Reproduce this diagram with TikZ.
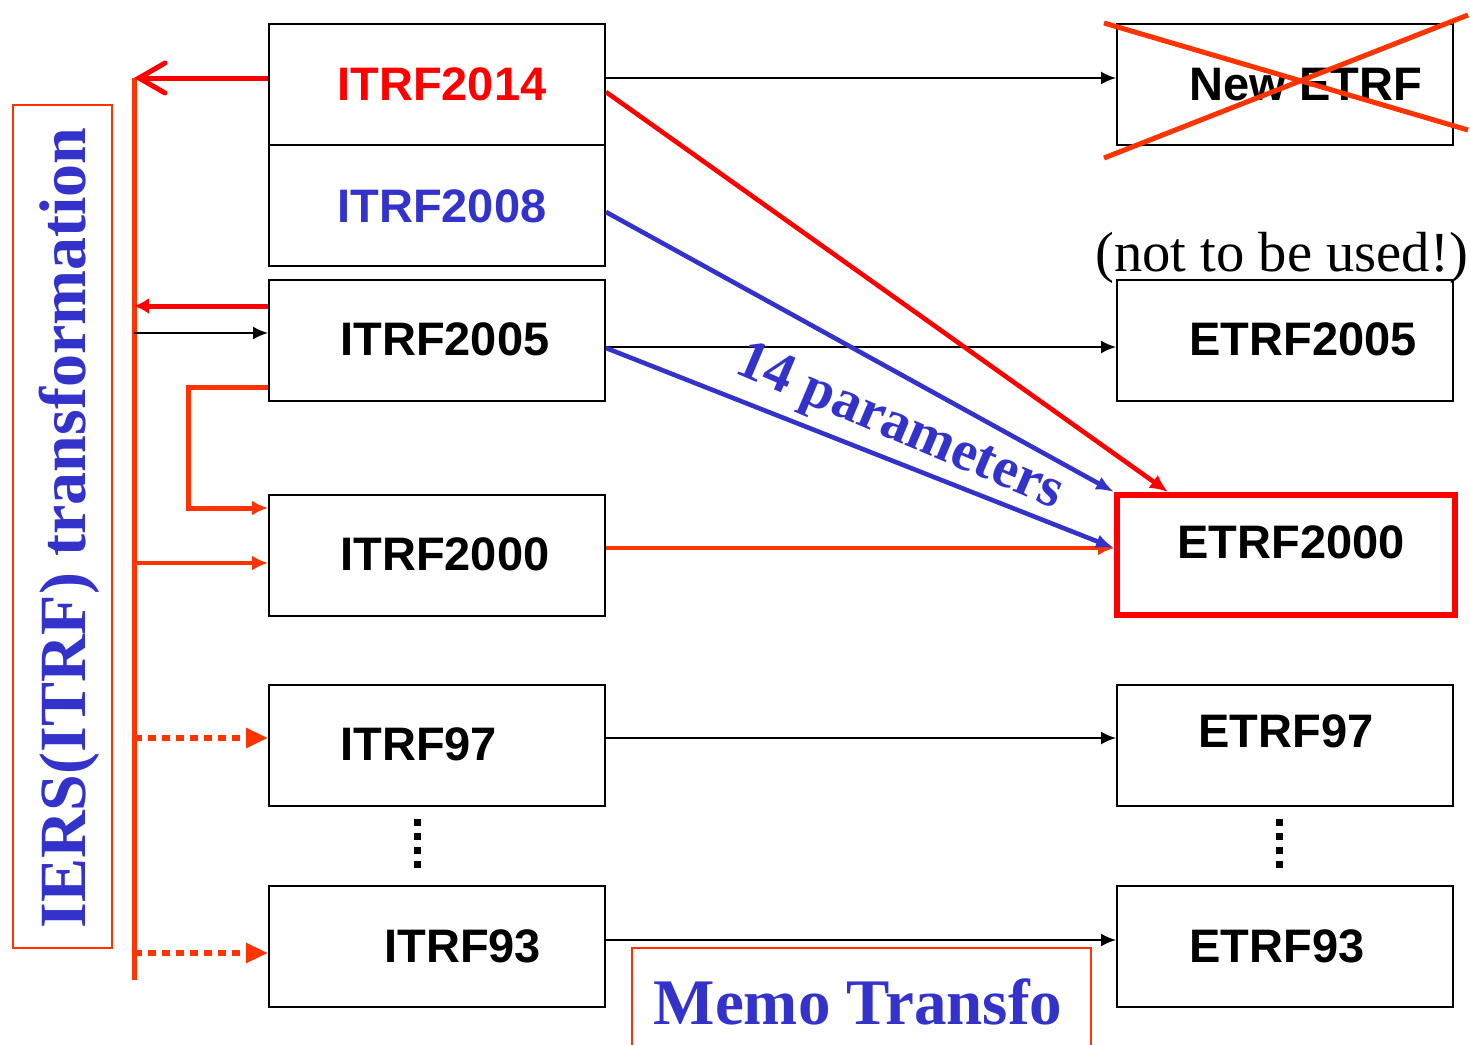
\documentclass[tikz,border=0pt]{standalone}
\usepackage{fontspec}
\setmainfont{Liberation Serif}
\newfontfamily\arialfont{Liberation Sans}
\usetikzlibrary{arrows.meta}
\definecolor{framered}{HTML}{FF0000}
\definecolor{linkorange}{HTML}{FF3300}
\definecolor{itrfblue}{HTML}{3333CC}
\begin{document}
\begin{tikzpicture}[x=0.5pt,y=-0.5pt,
  frame/.style={draw=black,line width=1pt,minimum width=168pt,minimum height=60.5pt,inner sep=0pt},
  lab/.style={font=\arialfont\bfseries\fontsize{23.5}{28}\selectfont,anchor=base west,inner sep=0pt},
  serifblue/.style={text=itrfblue,font=\bfseries\fontsize{33}{36}\selectfont,inner sep=0pt},
  thinarrow/.style={draw=black,line width=1pt,-{Latex[length=7.5pt,width=6.5pt]}},
  redarrow/.style={draw=framered,line width=2.3pt,-{Latex[length=9pt,width=8pt]}},
  bluearrow/.style={draw=itrfblue,line width=2.3pt,-{Latex[length=9pt,width=7pt]}},
  orangearrow/.style={draw=linkorange,line width=2.3pt,-{Latex[length=8pt,width=7.5pt]}},
  dottedarrow/.style={draw=linkorange,line width=3pt,dash pattern=on 4pt off 3pt,
    -{Triangle[length=11pt,width=9.5pt,sep=0pt]}},
  dotsq/.style={fill=black,minimum size=3.5pt,inner sep=0pt}
]
\useasboundingbox (0,0) rectangle (1470,1044);

% ITRF frames
\node[frame] (b14) at (437,84) {};
\node[frame] (b08) at (437,205.5) {};
\node[frame] (b05) at (437,340.5) {};
\node[frame] (b00) at (437,555) {};
\node[frame] (b97) at (437,745) {};
\node[frame] (b93) at (437,946.5) {};
\node[lab,text=framered] (t14) at (337,100) {ITRF2014};
\node[lab,text=itrfblue] (t08) at (337,222) {ITRF2008};
\node[lab] (t05) at (340,355) {ITRF2005};
\node[lab] (t00) at (340,570) {ITRF2000};
\node[lab] (t97) at (340,760) {ITRF97};
\node[lab] (t93) at (384,962) {ITRF93};

% ETRF frames
\node[frame] (eN) at (1285,84) {};
\node[frame] (e05) at (1285,340.5) {};
\node[frame,draw=framered,line width=3pt,minimum width=169pt,minimum height=60pt] (e00) at (1286,555) {};
\node[frame] (e97) at (1285,745) {};
\node[frame] (e93) at (1285,946.5) {};
\node[lab] (tN) at (1189,100) {New ETRF};
\node[lab] (te05) at (1189,355) {ETRF2005};
\node[lab] (te00) at (1177,558) {ETRF2000};
\node[lab] (te97) at (1198,747) {ETRF97};
\node[lab] (te93) at (1189,962) {ETRF93};

% crossed-out frame
\coordinate (xa1) at (1104,23);
\coordinate (xa2) at (1468,130);
\coordinate (xb1) at (1104,158);
\coordinate (xb2) at (1468,15);
\draw[linkorange,line width=2.5pt] (xa1) -- (xa2) (xb1) -- (xb2);
\node[font=\fontsize{28.3}{32}\selectfont,anchor=base west,inner sep=0pt] (warn) at (1095,271) {(not to be used!)};

% left caption
\node[draw=linkorange,line width=1pt,minimum width=49.5pt,minimum height=421.5pt,inner sep=0pt] (capbox) at (62.5,526.5) {};
\node[serifblue,rotate=90,anchor=base] (cap) at (85,528) {IERS(ITRF) transformation};

% spine
\coordinate (spT) at (134,78);
\coordinate (spB) at (134,980);
\coordinate (sp05in) at (134,306);
\coordinate (sp05out) at (134,333);
\coordinate (sp00) at (134,563);
\coordinate (sp97) at (134,738);
\coordinate (sp93) at (134,953);
\coordinate (elb) at (188,450);
\draw[linkorange,line width=2.5pt] (spT) -- (spB);

\draw[framered,line width=2.5pt,-{Straight Barb[length=13pt,width=15pt,line cap=round]}] ([yshift=3pt]b14.west) -- (spT);
\draw[framered,line width=2.5pt,-{Latex[length=7.5pt,width=8pt]}] ([yshift=17.25pt]b05.west) -- (sp05in);
\draw[thinarrow] (sp05out) -- ([yshift=3.75pt]b05.west);
\draw[orangearrow,line width=2.5pt] ([yshift=-23.25pt]b05.west) -| (elb) |- ([yshift=23.5pt]b00.west);
\draw[orangearrow,line width=2pt] (sp00) -- ([yshift=-4pt]b00.west);
\draw[dottedarrow] (sp97) -- ([yshift=3.5pt]b97.west);
\draw[dottedarrow] (sp93) -- ([yshift=-3.25pt]b93.west);

% ITRF -> ETRF links
\draw[thinarrow] ([yshift=3pt]b14.east) -- ([yshift=3pt]eN.west);
\draw[thinarrow] ([yshift=-3.25pt]b05.east) -- ([yshift=-3.25pt]e05.west);
\draw[thinarrow] ([yshift=3.5pt]b97.east) -- ([yshift=3.5pt]e97.west);
\draw[thinarrow] ([yshift=3.25pt]b93.east) -- ([yshift=3.25pt]e93.west);
\draw[orangearrow] ([yshift=3.5pt]b00.east) -- ([yshift=3.5pt]e00.west);
\draw[redarrow] ([yshift=-4pt]b14.east) -- ([xshift=-59pt]e00.north);
\draw[bluearrow] ([yshift=-3.25pt]b08.east) -- (e00.north west);
\draw[bluearrow] ([yshift=-3.75pt]b05.east) -- ([yshift=3.5pt]e00.west);

\node[text=itrfblue,font=\bfseries\fontsize{28.5}{32}\selectfont,rotate=-23,anchor=base west,inner sep=0pt] (par) at (733,372) {14 parameters};

% vertical ellipses
\foreach \yy [count=\k] in {822,836,850,864} {
  \node[dotsq] (dl\k) at (417,\yy) {};
  \node[dotsq] (dr\k) at (1279,\yy) {};
}

% memo
\coordinate (m1) at (632,1050);
\coordinate (m2) at (1091,948);
\coordinate (m3) at (1091,1050);
\draw[linkorange,line width=1pt] (m1) |- (m2) -- (m3);
\node[serifblue,font=\bfseries\fontsize{32.5}{36}\selectfont,anchor=base] (memo) at (858,1024) {Memo Transfo};
\end{tikzpicture}
\end{document}
